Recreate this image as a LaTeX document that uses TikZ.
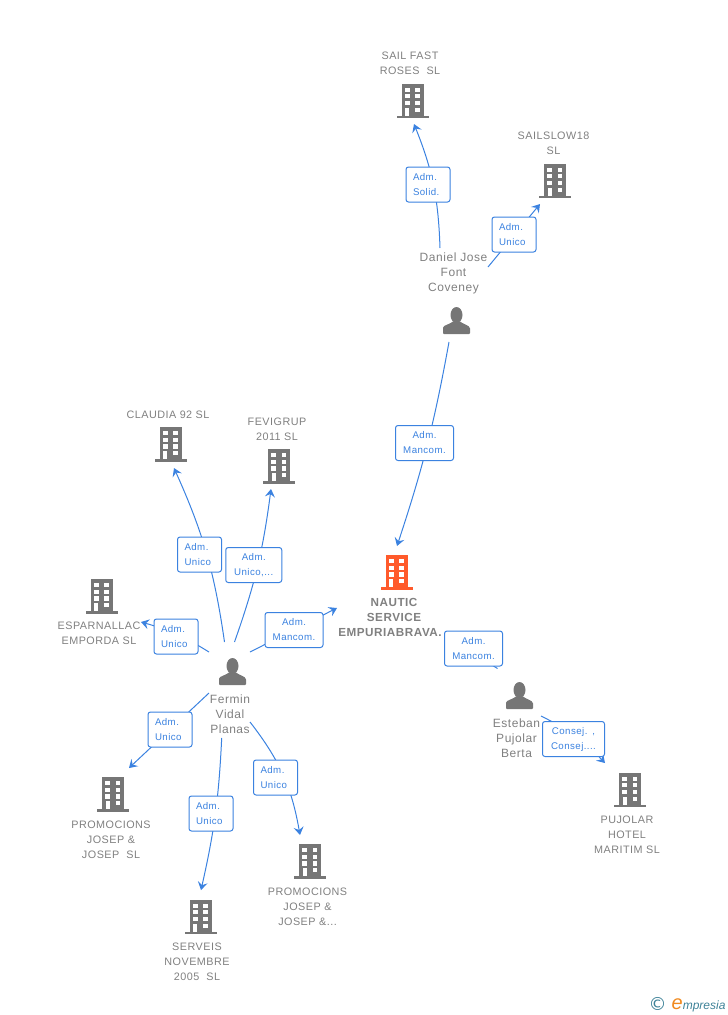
\documentclass[tikz,border=0pt]{standalone}
\usepackage{fontspec}
\setmainfont[LetterSpace=4.5]{Liberation Sans}
\newfontfamily\logofont{Liberation Sans}
\newfontfamily\logosign{DejaVu Sans}
\usetikzlibrary{arrows.meta,backgrounds}
\definecolor{inkgray}{HTML}{808080}
\definecolor{icongray}{HTML}{767676}
\definecolor{hub}{HTML}{FF5A2B}
\definecolor{linkblue}{HTML}{3B82E0}
\definecolor{logoteal}{HTML}{3E8298}
\definecolor{logoorange}{HTML}{F0891E}
\tikzset{
  x=1pt,y=-1pt,
  bldg/.style={minimum width=33pt,minimum height=35pt,inner sep=0pt,outer sep=0pt,
    path picture={
      \begin{scope}[shift={(path picture bounding box.center)}]
        \fill[#1] (-11,-17.5) rectangle (11,15);
        \fill[#1] (-16,14.7) rectangle (16,17.2);
        \foreach \yy in {-13.5,-6.8,-0.2}{
          \fill[white] (-7.7,\yy) rectangle ++(4.8,4.2);
          \fill[white] (2.5,\yy) rectangle ++(4.8,4.2);
        }
        \fill[white] (-7.5,6.5) rectangle (-3.2,14.7);
        \fill[white] (2.5,6.5) rectangle (7.3,10.6);
      \end{scope}
    }},
  personicon/.style={minimum width=28pt,minimum height=28pt,inner sep=0pt,outer sep=0pt,
    path picture={
      \begin{scope}[shift={(path picture bounding box.center)}]
        \fill[icongray] (0,-5.5) ellipse (6 and 8);
        \fill[icongray] (-13.5,13.5) [rounded corners=1pt] -- (-13.5,8) [sharp corners]
          .. controls (-13,4.5) and (-7,4) .. (-3.5,1) -- (3.5,1)
          .. controls (7,4) and (13,4.5) .. (13.5,8) [rounded corners=1pt] -- (13.5,13.5) -- cycle;
      \end{scope}
    }},
  nametext/.style={text=inkgray,align=center,inner sep=0pt,outer sep=0pt,yshift=-1pt,
    font=\fontsize{10.8}{15}\selectfont},
  personname/.style={nametext,yshift=0.5pt,font=\fontsize{12}{15}\selectfont},
  hubname/.style={nametext,yshift=1pt,font=\fontsize{11.7}{15}\selectfont\bfseries},
  role/.style={draw=linkblue,fill=white,line width=1pt,rounded corners=2.5pt,text=linkblue,
    inner sep=0pt,minimum height=35pt,text width=#1,align=center,
    font=\fontsize{9.7}{15}\selectfont},
  roleleft/.style={role=#1,align=left,inner xsep=7pt},
  link/.style={draw=linkblue,line width=1pt,-{Stealth[length=8pt,width=10pt,inset=3pt]}},
  plainlink/.style={draw=linkblue,line width=1pt},
}
\begin{document}
\begin{tikzpicture}
\useasboundingbox (0,0) rectangle (728,1015);

% companies
\node[bldg=icongray] (sailI) at (412.5,101) {};
\node[nametext] (sailT) at (410,62.5) {SAIL FAST\\ROSES\ \ SL};
\node[bldg=icongray] (slowI) at (555,181) {};
\node[nametext] (slowT) at (553.5,142.5) {SAILSLOW18\\SL};
\node[bldg=hub] (hubI) at (396.5,572.5) {};
\node[hubname] (hubT) at (390,617) {\hspace*{8pt}NAUTIC\\\hspace*{8pt}SERVICE\\EMPURIABRAVA.};
\node[bldg=icongray] (clauI) at (170.5,444.5) {};
\node[nametext] (clauT) at (168,414) {CLAUDIA 92 SL};
\node[bldg=icongray] (feviI) at (279,466.5) {};
\node[nametext] (feviT) at (277,428.5) {FEVIGRUP\\2011 SL};
\node[bldg=icongray] (espaI) at (101.5,596.5) {};
\node[nametext] (espaT) at (99,632.5) {ESPARNALLAC\\EMPORDA SL};
\node[bldg=icongray] (promaI) at (113,794.5) {};
\node[nametext] (promaT) at (111,839) {PROMOCIONS\\JOSEP \&\\JOSEP\ \ SL};
\node[bldg=icongray] (servI) at (200.5,917) {};
\node[nametext] (servT) at (197,961) {SERVEIS\\NOVEMBRE\\2005\ \ SL};
\node[bldg=icongray] (prombI) at (310,861.5) {};
\node[nametext] (prombT) at (307.5,906) {PROMOCIONS\\JOSEP \&\\JOSEP \&...};
\node[bldg=icongray] (pujoI) at (630,790) {};
\node[nametext] (pujoT) at (627,834) {PUJOLAR\\HOTEL\\MARITIM SL};

% people
\node[personicon] (danI) at (456.5,320.5) {};
\node[personname] (danT) at (453.5,273) {Daniel Jose\\Font\\Coveney};
\node[personicon] (ferI) at (232.5,671.5) {};
\node[personname] (ferT) at (230,714) {Fermin\\Vidal\\Planas};
\node[personicon] (estI) at (519.5,695.5) {};
\node[personname] (estT) at (516.5,738) {Esteban\\Pujolar\\Berta};

% role labels
\node[roleleft=30pt] (r1) at (428,184.5) {Adm.\\Solid.};
\node[roleleft=30pt] (r2) at (514,234.5) {Adm.\\Unico};
\node[role=58pt] (r3) at (424.5,443) {Adm.\\Mancom.};
\node[role=58pt] (r4) at (473.5,648.5) {Adm.\\Mancom.};
\node[role=62pt] (r5) at (573.5,739) {Consej. ,\\Consej....};
\node[roleleft=30pt] (r6) at (199.5,554.5) {Adm.\\Unico};
\node[role=56pt] (r7) at (253.75,565) {Adm.\\Unico,...};
\node[roleleft=30pt] (r8) at (176,636.5) {Adm.\\Unico};
\node[role=58pt] (r9) at (294,630) {Adm.\\Mancom.};
\node[roleleft=30pt] (r10) at (170,729.5) {Adm.\\Unico};
\node[roleleft=30pt] (r11) at (211,813.5) {Adm.\\Unico};
\node[roleleft=30pt] (r12) at (275.5,777.5) {Adm.\\Unico};

% connectors
\begin{scope}[on background layer]
\draw[link] ([shift={(-13.5,-25.5)}]danT.center) to[bend right=10] ([shift={(1.5,23)}]sailI.center);
\draw[link] ([shift={(34.5,-6.5)}]danT.center) -- ([shift={(-15,23)}]slowI.center);
\draw[link] ([shift={(-7.5,21.5)}]danI.center) to[bend left=4] ([shift={(0.5,-26.5)}]hubI.center);
\draw[link] ([shift={(-8,-29.5)}]ferI.center) to[bend right=8] ([shift={(3.5,23.5)}]clauI.center);
\draw[link] ([shift={(2,-29.5)}]ferI.center) to[bend right=6] ([shift={(-8,22.5)}]feviI.center);
\draw[link] ([shift={(-23.5,-19.5)}]ferI.center) to[bend right=8] ([shift={(42,-11.5)}]espaT.center);
\draw[link] ([shift={(17.5,-19.5)}]ferI.center) -- ([shift={(-53,-9)}]hubT.center);
\draw[link] ([shift={(-21,-21.5)}]ferT.center) -- ([shift={(16,-26.5)}]promaI.center);
\draw[link] ([shift={(-8.3,23.5)}]ferT.center) to[bend left=5] ([shift={(0.5,-27)}]servI.center);
\draw[link] ([shift={(20,7.5)}]ferT.center) to[bend left=14] ([shift={(-10,-26.5)}]prombI.center);
\draw[plainlink] ([shift={(62,23)}]hubT.center) -- ([shift={(-22,-27)}]estI.center);
\draw[link] ([shift={(24.5,-22.5)}]estT.center) to[bend left=10] ([shift={(-25,-27)}]pujoI.center);
\end{scope}

% logo
\node[text=logoteal,inner sep=0pt,font=\logosign\fontsize{18}{18}\selectfont] (logoC) at (657.5,1004) {©};
\node[text=logoteal,inner sep=0pt,anchor=base west,font=\logofont\itshape\fontsize{12}{15}\selectfont] (logoW) at (671.5,1009)
  {\textcolor{logoorange}{\fontsize{20}{15}\selectfont e}mpresia};
\end{tikzpicture}
\end{document}
